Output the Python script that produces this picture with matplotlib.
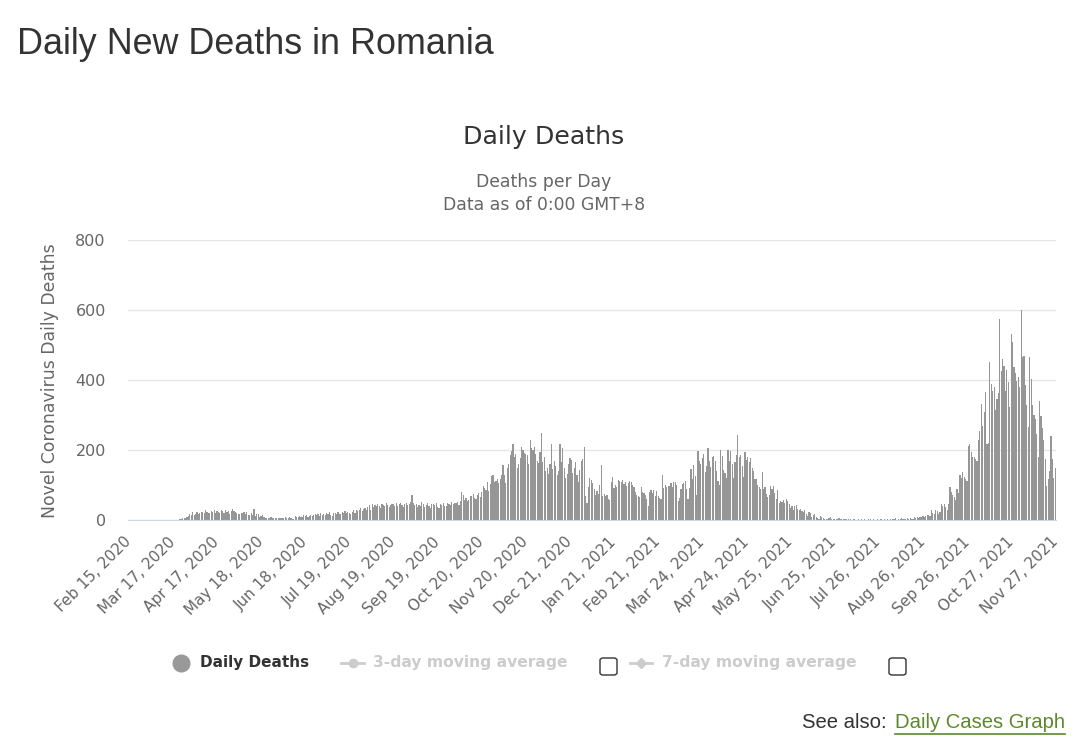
import matplotlib
matplotlib.use("Agg")
import matplotlib.pyplot as plt
from matplotlib.lines import Line2D
from matplotlib.patches import FancyBboxPatch
import pandas as pd

W, H = 1084, 749

# daily deaths, one list per month (Feb 15 2020 .. Nov 27 2021)
feb20 = [0] * 15
mar20 = [0] * 21 + [3, 3, 5, 6, 6, 9, 11, 18, 14, 22]
apr20 = [14, 17, 24, 18, 21, 22, 24, 20, 28, 22, 20, 21, 26, 24, 30, 21, 25, 23, 19, 29,
         27, 20, 28, 24, 25, 18, 27, 32, 26, 22]
may20 = [20, 18, 16, 21, 19, 22, 17, 24, 14, 13, 19, 15, 31, 12, 16, 18, 10, 12, 14, 8,
         6, 7, 6, 7, 8, 7, 6, 6, 5, 6, 7]
jun20 = [7, 5, 6, 8, 6, 7, 9, 5, 3, 2, 11, 8, 10, 12, 9, 8, 14, 11, 13, 10,
         12, 15, 11, 14, 17, 13, 16, 12, 19, 15]
jul20 = [18, 15, 20, 17, 22, 14, 12, 19, 21, 17, 24, 16, 18, 22, 20, 25, 19, 23, 21, 17,
         24, 28, 21, 30, 26, 29, 33, 27, 31, 35, 29]
aug20 = [36, 42, 28, 45, 38, 44, 41, 47, 39, 35, 46, 43, 40, 48, 44, 37, 42, 47, 45, 39,
         48, 41, 46, 50, 43, 38, 45, 49, 44, 47, 52]
sep20 = [72, 48, 42, 45, 38, 44, 40, 51, 46, 36, 43, 48, 39, 34, 47, 45, 42, 50, 38, 35,
         46, 44, 48, 41, 39, 50, 47, 43, 52, 45]
oct20 = [50, 48, 52, 44, 55, 80, 72, 58, 62, 54, 56, 68, 70, 74, 64, 60, 72, 78, 66, 80,
         96, 92, 86, 110, 84, 104, 126, 128, 108, 112, 118]
nov20 = [105, 118, 130, 158, 128, 105, 150, 160, 185, 198, 217, 180, 190, 150, 160, 176, 210, 200, 192, 190,
         185, 160, 228, 205, 200, 210, 188, 170, 162, 195]
dec20 = [248, 165, 180, 140, 150, 132, 160, 217, 145, 170, 155, 128, 140, 217, 165, 205, 150, 120, 132, 160,
         178, 172, 135, 150, 165, 130, 110, 142, 170, 175, 210]
jan21 = [70, 48, 95, 120, 115, 105, 88, 72, 82, 75, 100, 157, 70, 75, 68, 72, 60, 58, 108, 122,
         92, 100, 95, 115, 112, 108, 115, 102, 110, 98, 105]
feb21 = [112, 110, 100, 95, 80, 72, 70, 65, 95, 80, 78, 72, 60, 40, 80, 85, 78, 85, 70, 82,
         68, 62, 60, 128, 92, 100, 95, 98]
mar21 = [98, 105, 95, 110, 108, 100, 55, 62, 90, 102, 106, 112, 88, 60, 92, 145, 118, 158, 125, 72,
         196, 168, 160, 178, 188, 138, 155, 206, 170, 152, 180]
apr21 = [182, 170, 140, 112, 100, 200, 182, 142, 135, 120, 200, 170, 198, 160, 120, 165, 186, 243, 180, 185,
         155, 122, 195, 172, 180, 165, 178, 150, 140, 118]
may21 = [118, 100, 95, 88, 136, 90, 95, 75, 65, 72, 96, 88, 98, 76, 60, 85, 48, 55, 52, 56,
         50, 60, 54, 45, 35, 40, 30, 40, 42, 32, 28]
jun21 = [32, 26, 22, 30, 18, 12, 24, 20, 10, 14, 18, 8, 6, 4, 12, 9, 6, 3, 4, 2,
         5, 10, 3, 4, 2, 2, 3, 6, 4, 3]
jul21 = [3, 2, 4, 1, 2, 3, 1, 2, 2, 1, 0, 3, 1, 2, 1, 2, 0, 1, 2, 3,
         1, 2, 1, 0, 2, 1, 3, 2, 1, 2, 1]
aug21 = [2, 1, 3, 1, 4, 2, 5, 1, 2, 3, 6, 2, 4, 3, 5, 2, 6, 4, 3, 8,
         7, 9, 6, 10, 8, 12, 9, 11, 14, 13, 12]
sep21 = [28, 20, 18, 30, 25, 18, 22, 45, 40, 45, 38, 30, 45, 93, 80, 72, 65, 58, 88, 78,
         130, 120, 138, 122, 118, 112, 212, 218, 195, 180]
oct21 = [180, 175, 170, 230, 255, 332, 270, 310, 365, 217, 220, 451, 390, 370, 380, 313, 345, 362, 575, 427,
         460, 440, 370, 430, 395, 322, 532, 508, 436, 420, 398]
nov21 = [410, 380, 600, 465, 470, 385, 330, 265, 467, 403, 330, 300, 290, 246, 179, 341, 298, 262, 230, 175,
         98, 117, 140, 241, 175, 120, 150]

deaths = (feb20 + mar20 + apr20 + may20 + jun20 + jul20 + aug20 + sep20 + oct20 + nov20 + dec20
          + jan21 + feb21 + mar21 + apr21 + may21 + jun21 + jul21 + aug21 + sep21 + oct21 + nov21)
dates = pd.date_range("2020-02-15", periods=len(deaths), freq="D")
labels = [f"{d:%b} {d.day}, {d.year}" for d in dates]
y_ticks = [0, 200, 400, 600, 800]

CHART_FONT = "DejaVu Sans"
PAGE_FONT = "Liberation Sans"

fig = plt.figure(figsize=(W / 100, H / 100), dpi=100)


def fx(x):
    return x / W


def fy(y):
    return 1 - y / H


ax = fig.add_axes([fx(128), fy(520), 928 / W, 280 / H])
n = len(deaths)
ax.bar(range(n), deaths, width=0.82, color="#969696", linewidth=0)
ax.set_xlim(-0.5, n - 0.5)
ax.set_ylim(0, 800)
ax.set_yticks(y_ticks)
ax.yaxis.grid(True, color="#e6e6e6", lw=1)
ax.set_axisbelow(True)
for s in ["top", "right", "left"]:
    ax.spines[s].set_visible(False)
ax.spines["bottom"].set_color("#ccd6eb")
ax.tick_params(axis="y", length=0, pad=16, labelsize=11.5, labelcolor="#666666")
ticks = list(range(0, n, 31))
ax.set_xticks(ticks)
ax.set_xticklabels([labels[i] for i in ticks], rotation=45, ha="right", va="center",
                   rotation_mode="anchor")
ax.tick_params(axis="x", length=0, pad=14, labelsize=11, labelcolor="#666666")
for t in ax.get_xticklabels() + ax.get_yticklabels():
    t.set_family(CHART_FONT)

fig.text(fx(50), fy(381), "Novel Coronavirus Daily Deaths", rotation=90, ha="center", va="center",
         fontsize=12.4, color="#666666", family=CHART_FONT)

# page heading and chart titles
fig.text(fx(17), fy(45), "Daily New Deaths in Romania", fontsize=25.8, color="#333333",
         family=PAGE_FONT, va="center")
fig.text(fx(544), fy(137), "Daily Deaths", fontsize=18.2, color="#333333", family=CHART_FONT,
         ha="center", va="center")
fig.text(fx(544), fy(182), "Deaths per Day", fontsize=12.4, color="#666666", family=CHART_FONT,
         ha="center", va="center")
fig.text(fx(544), fy(205), "Data as of 0:00 GMT+8", fontsize=12.4, color="#666666", family=CHART_FONT,
         ha="center", va="center")

# legend
ly = fy(663)
fig.add_artist(Line2D([fx(181)], [ly], marker="o", markersize=12, color="#999999", lw=0))
fig.text(fx(200), ly, "Daily Deaths", fontsize=11, fontweight="bold", color="#333333",
         family=CHART_FONT, va="center")
fig.add_artist(Line2D([fx(341), fx(364)], [ly, ly], color="#cccccc", lw=2))
fig.add_artist(Line2D([fx(352.5)], [ly], marker="o", markersize=6, color="#cccccc", lw=0))
fig.text(fx(373), ly, "3-day moving average", fontsize=11.2, fontweight="bold", color="#cccccc",
         family=CHART_FONT, va="center")
fig.add_artist(Line2D([fx(630), fx(652)], [ly, ly], color="#cccccc", lw=2))
fig.add_artist(Line2D([fx(641)], [ly], marker="D", markersize=5.5, color="#cccccc", lw=0))
fig.text(fx(662), ly, "7-day moving average", fontsize=11.2, fontweight="bold", color="#cccccc",
         family=CHART_FONT, va="center")
for bx in (600, 889):
    fig.add_artist(FancyBboxPatch((fx(bx), fy(675)), 17 / W, 17 / H,
                                  boxstyle="round,pad=0,rounding_size=0.003",
                                  fc="white", ec="#333333", lw=1))

# see also link
fig.text(fx(802), fy(723), "See also: ", fontsize=14.6, color="#333333", family=PAGE_FONT, va="center")
link = fig.text(fx(895), fy(723), "Daily Cases Graph", fontsize=14.6, color="#5b8a2c",
                family=PAGE_FONT, va="center")
fig.canvas.draw()
bb = link.get_window_extent()
fig.add_artist(Line2D([bb.x0 / W, bb.x1 / W], [fy(734), fy(734)], color="#5b8a2c", lw=1.2))

fig.savefig("out.png", dpi=100)
